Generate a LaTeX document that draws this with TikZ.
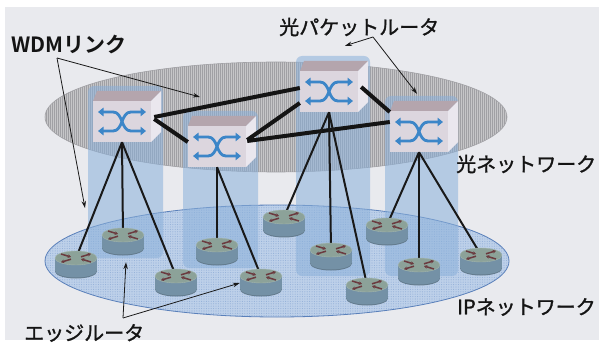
\documentclass[tikz,border=0pt]{standalone}
\usepackage{fontspec}
\newfontfamily\jpfont{Noto Sans CJK JP}[FakeBold=1.3]
\newfontfamily\jpbold{Noto Sans CJK JP Bold}
\usetikzlibrary{arrows.meta,calc,patterns.meta,shapes.geometric}

\definecolor{paper}{HTML}{E9EAEE}
\definecolor{planegray}{HTML}{C6C6C8}
\definecolor{planeline}{HTML}{A0A0A4}
\definecolor{planeedge}{HTML}{A2A2A6}
\definecolor{ipfill}{HTML}{BDD0E9}
\definecolor{ipdots}{HTML}{94B0D8}
\definecolor{ipedge}{HTML}{5A80BA}
\definecolor{pillar}{HTML}{8AB0DA}
\definecolor{swtopc}{HTML}{B4A5AD}
\definecolor{swfrontc}{HTML}{DCD6DE}
\definecolor{swsidec}{HTML}{EAE7EE}
\definecolor{swarrowc}{HTML}{3C86C8}
\definecolor{rtopc}{HTML}{8CA299}
\definecolor{rbodyc}{HTML}{7491A6}
\definecolor{riconc}{HTML}{6B3A3F}

% optical packet switch: name, left x and top y of the front face
\newcommand\opticalswitch[3]{%
  \begin{scope}[shift={(#2,#3)}]
    \fill[swtopc] (0,0) -- (58,0) -- (68,-10) -- (4,-10) -- cycle;
    \fill[swsidec] (58,0) -- (68,-10) -- (68,31) -- (58,41) -- cycle;
    \node[swfront] (#1) at (29,20.5) {};
    \draw[swarrow] (5,11) -- (20,11) to[out=0,in=180] (38,30) -- (53,30);
    \draw[swarrow] (5,30) -- (20,30) to[out=0,in=180] (38,11) -- (53,11);
  \end{scope}}

% edge router cylinder: name, centre of the top face
\newcommand\edgerouter[3]{%
  \begin{scope}[shift={(#2,#3)}]
    \fill[rbodyc] (-21,0) rectangle (21,13);
    \fill[rbodyc!85!black] (0,13.5) ellipse [x radius=21pt, y radius=7pt];
    \fill[rbodyc] (0,12.5) ellipse [x radius=21pt, y radius=7pt];
    \node[rtop] (#1) at (0,0) {};
    \draw[ricon] (-15,-4) -- (-5,-1);
    \draw[ricon] (-5,1.2) -- (-15,4.2);
    \draw[ricon] (5,-1.2) -- (15,-4.2);
    \draw[ricon] (15,4) -- (5,1);
  \end{scope}}

\begin{document}
\begin{tikzpicture}[x=1pt,y=-1pt,
  swfront/.style={rectangle, minimum width=58pt, minimum height=41pt,
    inner sep=0pt, fill=swfrontc},
  swarrow/.style={draw=swarrowc, line width=2.8pt,
    {Triangle[length=5.5pt,width=8.5pt]}-{Triangle[length=5.5pt,width=8.5pt]}},
  rtop/.style={ellipse, minimum width=42pt, minimum height=14pt, inner sep=0pt,
    fill=rtopc, draw=rtopc!80!white, line width=0.4pt},
  ricon/.style={draw=riconc, line width=1.5pt, -{Stealth[length=3.2pt,width=3.6pt]}},
  pillarbox/.style={fill=pillar, fill opacity=0.55, rounded corners=6pt},
  wdmlink/.style={draw=black!92, line width=4pt},
  access/.style={draw=black!90, line width=2pt},
  callout/.style={draw=black!90, line width=0.8pt, -{Stealth[length=7pt,width=4.5pt]}},
  lbl/.style={font=\jpfont\fontsize{20}{24}\selectfont, inner sep=0pt, text=black!92}]

\useasboundingbox (0,0) rectangle (599,347);
\fill[white] (0,0) rectangle (599,347);
\fill[paper] (5,7) rectangle (599,340);

% optical network plane
\path[fill=planegray, draw=planeedge, line width=0.6pt,
  postaction={pattern={Lines[angle=90,distance=2pt,line width=0.45pt]}, pattern color=planeline}]
  (276,117) ellipse [x radius=231pt, y radius=55pt];

% IP network plane
\path[fill=ipfill,
  postaction={pattern={Dots[distance=2.4pt,radius=0.55pt]}, pattern color=ipdots}]
  (277,261) ellipse [x radius=232pt, y radius=56pt];
\draw[ipedge, line width=0.8pt] (277,261) ellipse [x radius=232pt, y radius=56pt];

% translucent pillars below each switch
\fill[pillarbox] (88,86) rectangle (163,258);
\fill[pillarbox] (183,111) rectangle (258,268);
\fill[pillarbox] (296,56) rectangle (370,276);
\fill[pillarbox] (385,96) rectangle (458,276);

% switches
\opticalswitch{s1}{93}{101}
\opticalswitch{s2}{188}{126}
\opticalswitch{s3}{300}{71}
\opticalswitch{s4}{390}{111}

% WDM links between switches
\draw[wdmlink] ($(s1.east)+(3,-4.5)$) -- ($(s3.west)+(0,-3.5)$);
\draw[wdmlink] ($(s1.east)+(3,-2.5)$) -- ($(s2.west)+(0,-4.5)$);
\draw[wdmlink] ($(s2.east)+(1,-6.5)$) -- ($(s3.west)+(0,11.5)$);
\draw[wdmlink] ($(s2.east)+(1,-5.5)$) -- ($(s4.west)+(0,-9.5)$);
\draw[wdmlink] ($(s3.east)+(3,-4.5)$) -- ($(s4.west)+(0,-19.5)$);

% access links (drawn first, routers cover their ends)
\coordinate (r1c) at (76,258);
\coordinate (r2c) at (123,235);
\coordinate (r3c) at (176,276);
\coordinate (r4c) at (217,245);
\coordinate (r5c) at (261,276);
\coordinate (r6c) at (284,217);
\coordinate (r7c) at (331,250);
\coordinate (r8c) at (367,285);
\coordinate (r9c) at (387,225);
\coordinate (r10c) at (419,265);
\coordinate (r11c) at (481,255);

\draw[access] (s1.south) -- (r1c);
\draw[access] (s1.south) -- (r2c);
\draw[access] (s1.south) -- (r3c);
\draw[access] (s2.south) -- (r4c);
\draw[access] (s2.south) -- (r5c);
\draw[access] (s3.south) -- (r6c);
\draw[access] (s3.south) -- (r7c);
\draw[access] (s3.south) -- (r8c);
\draw[access] (s4.south) -- (r9c);
\draw[access] (s4.south) -- (r10c);
\draw[access] (s4.south) -- (r11c);

% edge routers
\edgerouter{r6}{284}{217}
\edgerouter{r9}{387}{225}
\edgerouter{r2}{123}{235}
\edgerouter{r4}{217}{245}
\edgerouter{r7}{331}{250}
\edgerouter{r11}{481}{255}
\edgerouter{r1}{76}{258}
\edgerouter{r10}{419}{265}
\edgerouter{r3}{176}{276}
\edgerouter{r5}{261}{276}
\edgerouter{r8}{367}{285}

% labels
\node[lbl, anchor=west, font=\jpbold\fontsize{21}{24}\selectfont] (lwdm) at (11,45) {WDMリンク};
\node[lbl, anchor=west] (lops) at (279,27) {光パケットルータ};
\node[lbl, anchor=west] (lopt) at (456,164) {光ネットワーク};
\node[lbl, anchor=west] (lip) at (457,307) {IPネットワーク};
\node[lbl, anchor=west] (ledge) at (24,333) {エッジルータ};

% call-out arrows
\coordinate (wdmfork) at (57,58);
\coordinate (wdmtipA) at (200,97);
\coordinate (wdmtipB) at (85,208);
\draw[callout] (wdmfork) -- (wdmtipA);
\draw[callout] (wdmfork) -- (wdmtipB);

\coordinate (opsfork) at (373,37);
\draw[callout] (opsfork) -- ($(s3.north)+(16,-25)$);
\draw[callout] (opsfork) -- ($(s4.north)+(-2,-17)$);

\coordinate (edgefork) at (123,318);
\draw[callout] (edgefork) -- ($(r2.south)+(3,20)$);
\draw[callout] (edgefork) -- ($(r5.west)+(0,7)$);
\end{tikzpicture}
\end{document}
